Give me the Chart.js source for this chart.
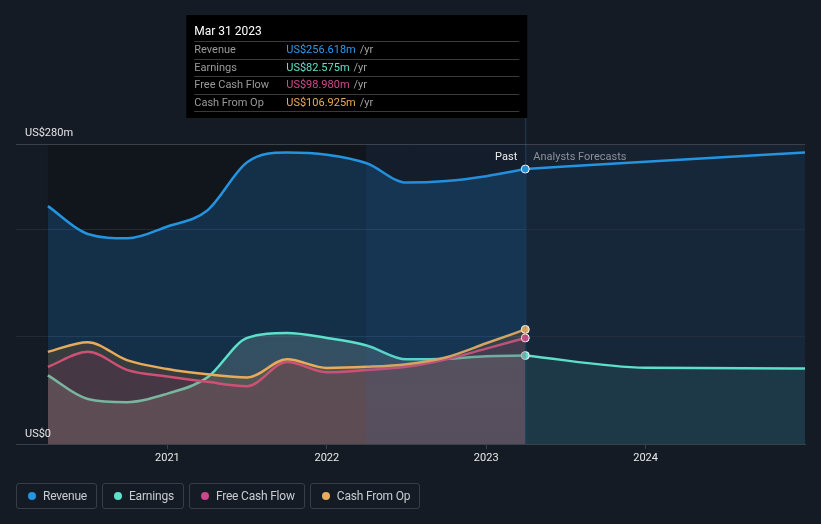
<!DOCTYPE html>
<html>
<head>
<meta charset="utf-8">
<script src="https://cdn.jsdelivr.net/npm/chart.js@4.4.1/dist/chart.umd.min.js"></script>
<style>
  html, body { margin: 0; padding: 0; background: #151b25; }
  #wrap { position: relative; width: 821px; height: 524px; font-family: Roboto, "Noto Sans", sans-serif; }
  #chart { position: absolute; left: 0; top: 0; }
  #legend { position: absolute; left: 16px; top: 483px; display: flex; gap: 5px; }
  .item { height: 26px; box-sizing: border-box; border: 1px solid #383e49; border-radius: 3px;
          display: flex; align-items: center; padding: 0 9px 0 11px; color: #c9ccd1; font-size: 12px;
          letter-spacing: -0.2px; }
  .dot { width: 8px; height: 8px; border-radius: 50%; margin-right: 7px; }
</style>
</head>
<body>
<div id="wrap">
  <canvas id="chart" width="821" height="524"></canvas>
  <div id="legend"></div>
</div>
<script>
  // quarterly history (decimal years), US$m
  const pastDates = [2020.25, 2020.5, 2020.75, 2021.0, 2021.25, 2021.5, 2021.75, 2022.0, 2022.25, 2022.5, 2022.75, 2023.0, 2023.245];
  const revenue = [222, 196, 192, 203, 218, 263, 272, 270, 262, 244, 245.5, 250, 256.618];
  const earnings = [64, 42, 39, 47, 62, 99, 103.5, 99, 92, 79, 79.5, 82, 82.575];
  const freeCashFlow = [72, 86, 69, 63, 58, 54, 76.5, 67, 69, 72, 79, 89, 98.98];
  const cashFromOp = [86, 95, 78, 70, 65, 62, 79, 71, 72, 74.5, 81, 94, 106.925];

  // analyst forecasts
  const forecastDates = [2023.245, 2024.0, 2025.0];
  const revenueForecast = [256.618, 263.5, 272];
  const earningsForecast = [82.575, 71.2, 70.5];

  const yearTicks = [2021, 2022, 2023, 2024];
  const yTicks = [0, 100, 200, 280];

  const SERIES = [
    { name: "Revenue", color: "#2394e0", value: "US$256.618m", valueColor: "#2b9bf0" },
    { name: "Earnings", color: "#5de0c9", value: "US$82.575m", valueColor: "#5fe3cb" },
    { name: "Free Cash Flow", color: "#c9478a", value: "US$98.980m", valueColor: "#d24a8e" },
    { name: "Cash From Op", color: "#e8ab5c", value: "US$106.925m", valueColor: "#eaad5a" },
  ];

  const legendEl = document.getElementById("legend");
  legendEl.innerHTML = SERIES.map((s) =>
    `<div class="item"><span class="dot" style="background:${s.color}"></span>${s.name}</div>`
  ).join("");

  function pts(xs, ys) {
    return xs.map((x, i) => ({ x, y: ys[i] }));
  }

  function lastDot(ctx) {
    return ctx.dataIndex === pastDates.length - 1 ? 4 : 0;
  }

  // vertical gradient fill between two colours
  function gradient(topColor, bottomColor) {
    return (ctx) => {
      const a = ctx.chart.chartArea;
      if (!a) return topColor;
      const g = ctx.chart.ctx.createLinearGradient(0, a.top, 0, a.bottom);
      g.addColorStop(0, topColor);
      g.addColorStop(1, bottomColor);
      return g;
    };
  }

  function pastSet(label, values, color, fill, order) {
    return {
      label,
      data: pts(pastDates, values),
      borderColor: color,
      backgroundColor: fill,
      fill: "origin",
      borderWidth: 2.5,
      cubicInterpolationMode: "monotone",
      pointRadius: lastDot,
      pointHoverRadius: lastDot,
      pointBackgroundColor: color,
      pointBorderColor: "#ffffff",
      pointBorderWidth: 1,
      order,
    };
  }

  function forecastSet(label, xs, values, color, fill, order) {
    return {
      label,
      data: pts(xs, values),
      borderColor: color,
      backgroundColor: fill,
      fill: "origin",
      borderWidth: 2.5,
      cubicInterpolationMode: "monotone",
      pointRadius: 0,
      order,
    };
  }

  const backdrop = {
    id: "backdrop",
    beforeDraw(chart) {
      const { ctx, chartArea: a, scales: { x } } = chart;
      const x0 = x.getPixelForValue(pastDates[0]);
      const xp = x.getPixelForValue(pastDates[pastDates.length - 1]);
      ctx.save();
      ctx.fillStyle = "#11151c";
      ctx.fillRect(x0, a.top, xp - x0, a.bottom - a.top);
      ctx.fillStyle = "#172231";
      ctx.fillRect(xp, a.top, a.right - xp, a.bottom - a.top);
      ctx.restore();
    },
    afterDatasetsDraw(chart) {
      const { ctx, chartArea: a, scales: { x, y } } = chart;
      const xp = x.getPixelForValue(pastDates[pastDates.length - 1]);
      const xb = x.getPixelForValue(pastDates[pastDates.length - 1] - 1);
      ctx.save();
      ctx.fillStyle = "rgba(40, 110, 180, 0.10)";
      ctx.fillRect(xb, a.top, xp - xb, a.bottom - a.top);

      ctx.font = "11px Roboto, 'Noto Sans', sans-serif";
      ctx.textBaseline = "alphabetic";
      ctx.textAlign = "right";
      ctx.fillStyle = "#eeeeee";
      ctx.fillText("Past", xp - 8, a.top + 16);
      ctx.textAlign = "left";
      ctx.fillStyle = "#8b9099";
      ctx.fillText("Analysts Forecasts", xp + 8, a.top + 16);

      ctx.fillStyle = "#e4e4e4";
      ctx.fillText("US$280m", 25, y.getPixelForValue(280) - 8);
      ctx.fillText("US$0", 25, y.getPixelForValue(0) - 7);
      ctx.restore();
    },
    afterDraw(chart) {
      const { ctx, chartArea: a, scales: { x } } = chart;
      const xp = x.getPixelForValue(pastDates[pastDates.length - 1]);
      const right = xp + 2;
      const left = right - 341;
      const top = 15;
      const bottom = 118;
      ctx.save();
      ctx.strokeStyle = "rgba(60, 120, 180, 0.35)";
      ctx.lineWidth = 1;
      ctx.beginPath();
      ctx.moveTo(xp + 0.5, bottom);
      ctx.lineTo(xp + 0.5, a.bottom);
      ctx.stroke();

      ctx.fillStyle = "#000000";
      ctx.fillRect(left, top, right - left, bottom - top);
      ctx.font = "12px Roboto, 'Noto Sans', sans-serif";
      ctx.fillStyle = "#ffffff";
      ctx.textAlign = "left";
      ctx.fillText("Mar 31 2023", left + 8, top + 20);

      ctx.strokeStyle = "#3a3a3a";
      const rowH = 17.5;
      for (let i = 0; i <= SERIES.length; i++) {
        const ly = Math.round(top + 26 + i * rowH) + 0.5;
        ctx.beginPath();
        ctx.moveTo(left + 8, ly);
        ctx.lineTo(right - 8, ly);
        ctx.stroke();
      }
      ctx.font = "11px Roboto, 'Noto Sans', sans-serif";
      SERIES.forEach((s, i) => {
        const by = top + 38 + i * rowH;
        ctx.fillStyle = "#9a9a9a";
        ctx.fillText(s.name, left + 8, by);
        ctx.fillStyle = s.valueColor;
        ctx.fillText(s.value, left + 100, by);
        const w = ctx.measureText(s.value).width;
        ctx.fillStyle = "#a0a0a0";
        ctx.fillText("/yr", left + 100 + w + 4, by);
      });
      ctx.restore();
    },
  };

  new Chart(document.getElementById("chart"), {
    type: "line",
    data: {
      datasets: [
        pastSet("Cash From Op", cashFromOp, SERIES[3].color, "rgba(230, 130, 20, 0.17)", 1),
        pastSet("Free Cash Flow", freeCashFlow, SERIES[2].color, "rgba(140, 0, 110, 0.14)", 2),
        pastSet("Earnings", earnings, SERIES[1].color,
          gradient("rgba(95, 175, 165, 0.34)", "rgba(120, 130, 140, 0.34)"), 3),
        forecastSet("Earnings forecast", forecastDates, earningsForecast, SERIES[1].color, "rgba(90, 210, 190, 0.10)", 3),
        pastSet("Revenue", revenue, SERIES[0].color, "rgba(33, 140, 230, 0.22)", 4),
        forecastSet("Revenue forecast", forecastDates, revenueForecast, SERIES[0].color, "rgba(33, 140, 230, 0.05)", 4),
      ],
    },
    options: {
      responsive: false,
      animation: false,
      events: [],
      layout: { padding: { left: 16, right: 16, top: 144, bottom: 56 } },
      plugins: { legend: { display: false }, tooltip: { enabled: false } },
      scales: {
        x: {
          type: "linear",
          min: 2020.05,
          max: 2025.0,
          afterBuildTicks(scale) {
            scale.ticks = yearTicks.map((v) => ({ value: v }));
          },
          afterFit(scale) {
            scale.height = 24;
          },
          ticks: {
            color: "#e8e8e8",
            font: { size: 11, family: "Roboto, 'Noto Sans', sans-serif" },
            padding: 3,
            maxRotation: 0,
            callback: (v) => String(v),
          },
          grid: { drawOnChartArea: false, drawTicks: true, tickLength: 5, tickColor: "#3b4049" },
          border: { color: "#3b4049", width: 1 },
        },
        y: {
          min: 0,
          max: 280,
          afterBuildTicks(scale) {
            scale.ticks = yTicks.map((v) => ({ value: v }));
          },
          afterFit(scale) {
            scale.width = 0;
          },
          ticks: { display: false },
          grid: {
            drawTicks: false,
            color: (ctx) => (ctx.tick && ctx.tick.value === 280 ? "#3b4049" : "#232a34"),
          },
          border: { display: false },
        },
      },
    },
    plugins: [backdrop],
  });
</script>
</body>
</html>
